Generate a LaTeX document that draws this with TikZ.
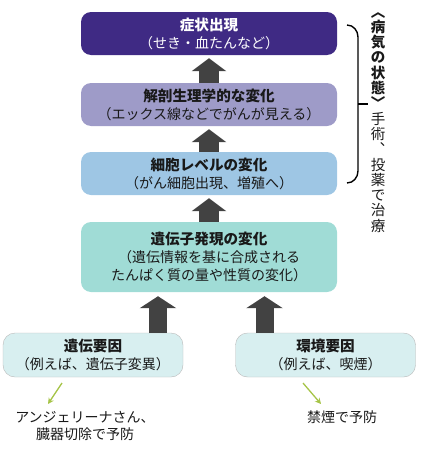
\documentclass[tikz,border=0pt]{standalone}
\usepackage{fontspec}
\setmainfont{Noto Sans CJK JP}
\usetikzlibrary{arrows.meta}
\definecolor{symcol}{RGB}{63,42,132}
\definecolor{anacol}{RGB}{158,155,200}
\definecolor{cellcol}{RGB}{158,198,228}
\definecolor{genecol}{RGB}{160,220,214}
\definecolor{factcol}{RGB}{216,239,240}
\definecolor{arrcol}{RGB}{66,66,66}
\definecolor{tipcol}{RGB}{166,196,72}
\newcommand{\ttl}[1]{{\fontsize{14.6}{18}\selectfont\textbf{#1}}}
\begin{document}
\begin{tikzpicture}[x=1pt,y=-1pt, every node/.style={font=\fontsize{14}{18}\selectfont,text=black!90},
  stage/.style={rounded corners=10pt,minimum width=256pt,minimum height=43pt,align=center,inner sep=0pt},
  factor/.style={draw=gray!55,rounded corners=12pt,fill=factcol,minimum width=180pt,minimum height=44pt,align=center,inner sep=0pt},
  uparrow/.style={arrcol,line width=20pt,-{Triangle[width=34pt,length=13pt]},shorten >=3pt},
  baseup/.style={arrcol,line width=18pt,-{Triangle[width=36pt,length=12pt]},shorten >=4pt},
  tiparrow/.style={tipcol,line width=1.3pt,-{Stealth[length=6pt,width=6pt]}}]
\useasboundingbox (0,0) rectangle (422,450);
% stages of the disease
\node[stage,fill=symcol,text=white] (sym) at (209,33.5) {\ttl{症状出現}\\（せき・血たんなど）};
\node[stage,fill=anacol] (ana) at (209,104.5) {\ttl{解剖生理学的な変化}\\（エックス線などでがんが見える）};
\node[stage,fill=cellcol] (cell) at (209,173.5) {\ttl{細胞レベルの変化}\\（がん細胞出現、増殖へ）};
\node[stage,fill=genecol,minimum height=70pt] (gene) at (209,257) {\ttl{遺伝子発現の変化}\\（遺伝情報を基に合成される\\たんぱく質の量や性質の変化）};
% causes
\node[factor] (inh) at (93,355) {\ttl{遺伝要因}\\（例えば、遺伝子変異）};
\node[factor] (env) at (325.5,355) {\ttl{環境要因}\\（例えば、喫煙）};
\draw[uparrow] (ana) -- (sym);
\draw[uparrow] (cell) -- (ana);
\draw[uparrow] (gene) -- (cell);
\coordinate (inhup) at (158,333);
\coordinate (envup) at (264.5,333);
\draw[baseup] (inhup) -- (inhup |- gene.south);
\draw[baseup] (envup) -- (envup |- gene.south);
% prevention
\node[font=\fontsize{14}{17}\selectfont,align=center] (inhnote) at (85,425.5) {アンジェリーナさん、\\臓器切除で予防};
\node (envnote) at (342,417) {禁煙で予防};
\coordinate (inhtail) at (62,383);
\coordinate (envtail) at (303,383);
\draw[tiparrow] (inhtail) -- (48,404);
\draw[tiparrow] (envtail) -- (321,404);
% bracket and vertical label
\draw[line width=1.4pt,black] (347,25) to[out=0,in=90] (358,37) -- (358,171) to[out=-90,in=0] (347,183);
\draw[line width=1.4pt,black] (358,104) -- (368,104);
\node[anchor=north,align=center,inner sep=0pt,font=\fontsize{14.5}{15.3}\selectfont] (state) at (378,12)
  {\textbf{︿}\\\textbf{病}\\\textbf{気}\\\textbf{の}\\\textbf{状}\\\textbf{態}\\\textbf{﹀}\\手\\術\\︑\\投\\薬\\で\\治\\療};
\end{tikzpicture}
\end{document}
